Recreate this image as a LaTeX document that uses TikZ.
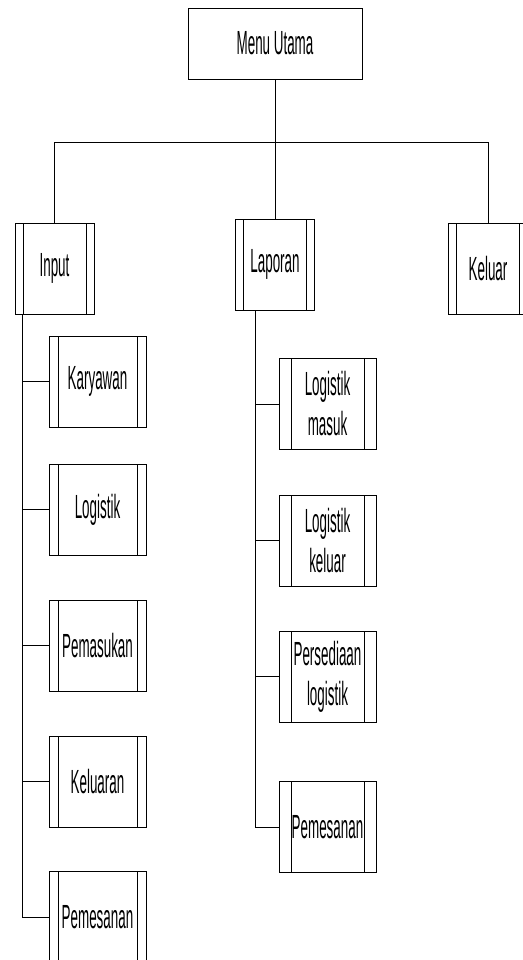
\documentclass[tikz,border=0pt]{standalone}
\usepackage{fontspec}
\setmainfont{Liberation Sans}[FakeStretch=0.4]
\usepackage{tikz}
\usepackage{xcolor}

\tikzset{
	box/.style={draw, line width=0.8pt, align=center, inner sep=0pt, font=\fontsize{33.5}{40}\selectfont},
	proc/.style={box, path picture={
		\draw[line width=0.6pt] ([xshift=#1]path picture bounding box.south west) -- ([xshift=#1]path picture bounding box.north west);
		\draw[line width=0.6pt] ([xshift=-#1]path picture bounding box.south east) -- ([xshift=-#1]path picture bounding box.north east);}},
	proc/.default=8pt,
	topbox/.style={proc, minimum width=79pt, minimum height=91pt},
	subbox/.style={proc=#1, minimum width=97pt, minimum height=91pt}
}

\begin{document}
\begin{tikzpicture}[x=1pt, y=-1pt]
				\useasboundingbox (0, 0) rectangle (522, 960);
				\node[box, minimum width=174pt, minimum height=71pt] (menu) at (275, 43.5) {Menu Utama};
				\node[topbox] (inp) at (54.5, 268.5) {Input};
				\node[topbox] (lap) at (275, 264.5) {Laporan};
				\node[topbox] (kel) at (488, 268.5) {Keluar};
				\coordinate (bus) at (275, 142);
				\draw[line width=0.8pt] (inp.north) -- (inp.north |- bus) -- (kel.north |- bus) -- (kel.north);
				\draw[line width=0.8pt] (menu.south) -- (lap.north);
				\node[subbox=9pt] (kar) at (97.5, 381.5) {Karyawan};
				\node[subbox=9pt] (log) at (97.5, 509.5) {Logistik};
				\node[subbox=9pt] (pms) at (97.5, 645.5) {Pemasukan};
				\node[subbox=9pt] (klr) at (97.5, 781.5) {Keluaran};
				\node[subbox=9pt] (psn) at (97.5, 917) {Pemesanan};
				\coordinate (inptrunk) at ([xshift=8pt]inp.south west);
				\foreach \n in {kar, log, pms, klr, psn}
					\draw[line width=0.8pt] (inptrunk) |- (\n.west);
				\node[subbox=12pt] (lmsk) at (327.5, 404) {Logistik\\masuk};
				\node[subbox=12pt] (lklr) at (327.5, 540.5) {Logistik\\keluar};
				\node[subbox=12pt] (psd) at (327.5, 676.5) {Persediaan\\logistik};
				\node[subbox=12pt] (lpsn) at (327.5, 827) {Pemesanan};
				\coordinate (laptrunk) at ([xshift=20pt]lap.south west);
				\foreach \n in {lmsk, lklr, psd, lpsn}
					\draw[line width=0.8pt] (laptrunk) |- (\n.west);
			\end{tikzpicture}
\end{document}
